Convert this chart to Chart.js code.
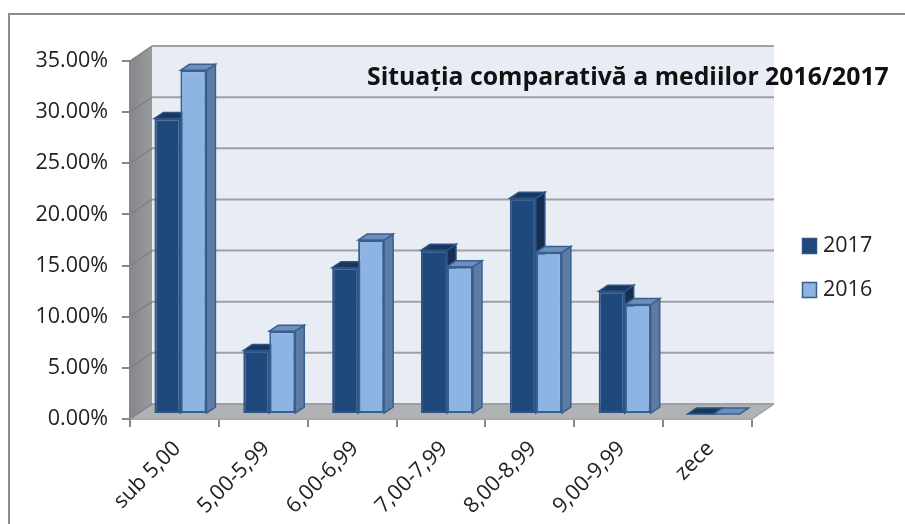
<!DOCTYPE html>
<html><head><meta charset="utf-8">
<style>html,body{margin:0;padding:0;background:#fff}canvas{display:block;filter:blur(0.4px)}</style>
<script src="https://cdn.jsdelivr.net/npm/chart.js@4"></script></head>
<body><canvas id="c" width="905" height="524"></canvas>
<script>
const categories=['sub 5,00','5,00-5,99','6,00-6,99','7,00-7,99','8,00-8,99','9,00-9,99','zece'];
const values2017=[28.9,6.2,14.3,16.0,21.1,12.0,0];
const values2016=[33.6,8.1,17.0,14.4,15.8,10.7,0];
const chartTitle='Situația comparativă a mediilor 2016/2017';
const FONT='"Open Sans", sans-serif';
const depth={wx:22,wy:-15,bx:6,by:-5,sx:9,sy:-6};
const faces=[{top:'#17375e',side:'#142f52',line:'#2c5484'},{top:'#6f8fba',side:'#5d7ba3',line:'#376092'}];
function poly(ctx,pts,fill,stroke,lw){ctx.beginPath();pts.forEach((p,i)=>i?ctx.lineTo(p[0],p[1]):ctx.moveTo(p[0],p[1]));ctx.closePath();
  if(fill){ctx.fillStyle=fill;ctx.fill();}if(stroke){ctx.strokeStyle=stroke;ctx.lineWidth=lw||1;ctx.stroke();}}
function sides(ch,i){const c=ch.ctx,f=faces[i];
  ch.getDatasetMeta(i).data.forEach(b=>{const l=b.x-b.width/2,r=b.x+b.width/2,t=b.y,bt=b.base,sx=depth.sx,sy=depth.sy;
    poly(c,[[r,t],[r+sx,t+sy],[r+sx,bt+sy],[r,bt]],f.side,f.line,1.5);
    poly(c,[[l,t],[l+sx,t+sy],[r+sx,t+sy],[r,t]],f.top,f.line,1.5);});}
const scene={id:'scene',
  beforeDraw(ch){const c=ch.ctx,a=ch.chartArea,y=ch.scales.y;c.save();
    c.strokeStyle='#8c8c8c';c.lineWidth=2;c.beginPath();c.moveTo(9,524);c.lineTo(9,14);c.lineTo(905,14);c.stroke();
    const L=a.left,R=a.right,T=a.top,B=a.bottom,dx=depth.wx,dy=depth.wy;
    const g=c.createLinearGradient(L,0,L+dx,0);g.addColorStop(0,'#86878b');g.addColorStop(1,'#9a9b9f');
    poly(c,[[L+dx,T+dy],[R+dx,T+dy],[R+dx,B+dy],[L+dx,B+dy]],'#e8ecf5');
    poly(c,[[L,T],[L+dx,T+dy],[L+dx,B+dy],[L,B]],g);
    poly(c,[[L,B],[L+dx,B+dy],[R+dx,B+dy],[R,B]],'#b1b2b5');
    y.ticks.forEach(t=>{const p=y.getPixelForValue(t.value);
      c.strokeStyle='#a0a0a2';c.lineWidth=2;c.beginPath();c.moveTo(L+dx,p+dy);c.lineTo(R+dx,p+dy);c.stroke();
      c.strokeStyle='#7f8084';c.lineWidth=1.5;c.beginPath();c.moveTo(L,p);c.lineTo(L+dx,p+dy);c.stroke();});
    c.strokeStyle='#a0a0a2';c.lineWidth=1.5;c.beginPath();c.moveTo(R,B);c.lineTo(R+dx,B+dy);c.stroke();
    c.restore();},
  beforeDatasetDraw(ch,args){if(args.index===1)return false;
    ch.ctx.save();ch.ctx.translate(depth.bx,depth.by);sides(ch,0);},
  afterDatasetDraw(ch,args){if(args.index===0)ch.ctx.restore();},
  afterDatasetsDraw(ch){const c=ch.ctx;c.save();c.translate(depth.bx,depth.by);sides(ch,1);ch.getDatasetMeta(1).controller.draw();c.restore();},
  afterDraw(ch){const c=ch.ctx;c.save();
    c.font='bold 24.8px '+FONT;c.fillStyle='#111';c.textBaseline='middle';c.textAlign='left';c.fillText(chartTitle,367,78);
    const ys=[246,290];
    ch.data.datasets.forEach((d,i)=>{c.fillStyle=d.backgroundColor;c.strokeStyle=d.borderColor;c.lineWidth=1.5;
      c.fillRect(802.5,ys[i]-7.5,14,15);c.strokeRect(802.5,ys[i]-7.5,14,15);
      c.fillStyle='#222';c.font='21.5px '+FONT;c.fillText(d.label,823,ys[i]);});
    c.restore();}
};
new Chart(document.getElementById('c'),{type:'bar',
  data:{labels:categories,datasets:[
    {label:'2017',data:values2017,backgroundColor:'#1f497d',borderColor:'#2c5484',borderWidth:2,borderSkipped:false,clip:false,categoryPercentage:0.585,barPercentage:1},
    {label:'2016',data:values2016,backgroundColor:'#8db4e2',borderColor:'#376092',borderWidth:2,borderSkipped:false,clip:false,categoryPercentage:0.585,barPercentage:1}]},
  plugins:[scene],
  options:{responsive:false,animation:false,devicePixelRatio:1,
    layout:{padding:{top:61,right:153,left:0,bottom:0}},
    plugins:{tooltip:{enabled:false},title:{display:false},legend:{display:false}},
    scales:{
      x:{grid:{offset:true,drawOnChartArea:false,drawTicks:true,tickLength:8,color:'#868686',lineWidth:2},border:{color:'#a8a8a8',width:2},
        ticks:{minRotation:45,maxRotation:45,padding:9,labelOffset:3,font:{size:21.5,family:FONT},color:'#222',autoSkip:false},
        afterFit(s){s.height=105;}},
      y:{min:0,max:35,grid:{drawOnChartArea:false,drawTicks:true,tickLength:8,color:'#868686',lineWidth:2},border:{color:'#868686',width:2},
        ticks:{stepSize:5,padding:14,font:{size:21.5,family:FONT},color:'#222',callback:v=>v.toFixed(2)+'%'},
        afterFit(s){s.width=130;}}
    }}});
</script></body></html>
